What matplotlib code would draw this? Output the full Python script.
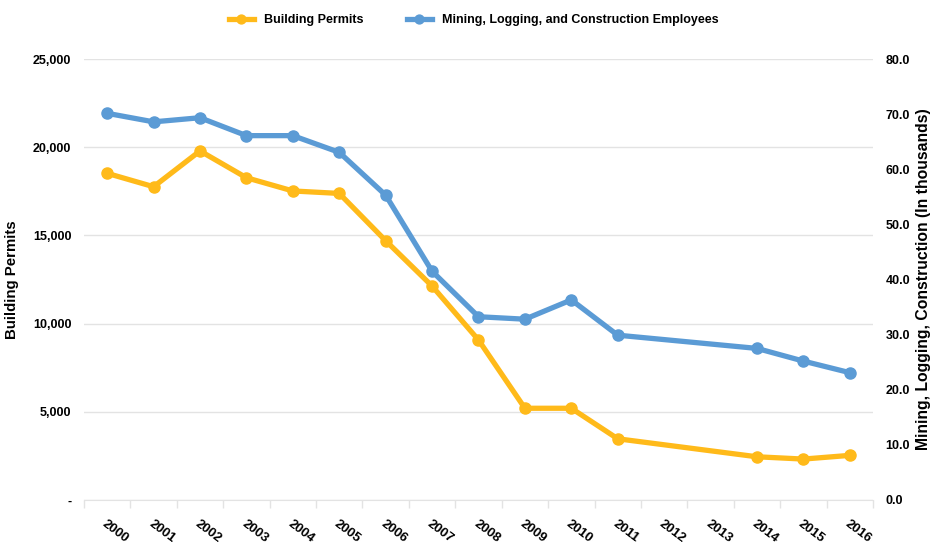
import numpy as np
import matplotlib
matplotlib.use("Agg")
import matplotlib.pyplot as plt
from matplotlib.ticker import FuncFormatter

plt.rcParams['font.family'] = ['Liberation Sans Narrow', 'Liberation Sans', 'DejaVu Sans']
plt.rcParams['font.weight'] = 'bold'

years = ['2000', '2001', '2002', '2003', '2004', '2005', '2006', '2007', '2008',
         '2009', '2010', '2011', '2012', '2013', '2014', '2015', '2016']
# None = no data for that year
permits = [18520, 17760, 19790, 18270, 17520, 17380, 14700, 12130, 9070,
           5200, 5200, 3470, None, None, 2450, 2320, 2530]
employees = [70.15, 68.6, 69.35, 66.1, 66.1, 63.07, 55.3, 41.5, 33.25,
             32.8, 36.3, 29.9, None, None, 27.5, 25.2, 23.1]

yellow = '#FFBA1A'
blue = '#5B9BD5'
grid = '#E3E3E3'

fig = plt.figure(figsize=(9.32, 5.48), dpi=100)
ax = fig.add_axes([0.0901, 0.0876, 0.8466, 0.8047])
ax2 = ax.twinx()

xp = [i for i, v in enumerate(permits) if v is not None]
yp = [v for v in permits if v is not None]
xe = [i for i, v in enumerate(employees) if v is not None]
ye = [v for v in employees if v is not None]

l1, = ax.plot(xp, yp, color=yellow, lw=3.8, marker='o', ms=8, zorder=3,
              label='Building Permits')
l2, = ax2.plot(xe, ye, color=blue, lw=3.8, marker='o', ms=8, zorder=3,
               label='Mining, Logging, and Construction Employees')

ax.set_xlim(-0.5, len(years) - 0.5)
ax.set_ylim(0, 25000)
ax2.set_ylim(0, 80)

ax.set_yticks(np.arange(0, 25001, 5000))
ax.yaxis.set_major_formatter(FuncFormatter(lambda v, p: '-' if v == 0 else f'{int(v):,}'))
ax2.set_yticks(np.arange(0, 81, 10))
ax2.yaxis.set_major_formatter(FuncFormatter(lambda v, p: f'{v:.1f}'))

ax.grid(axis='y', color=grid, lw=1)
ax.set_axisbelow(True)

# boundary ticks between categories, labels at centers
ax.set_xticks(np.arange(-0.5, len(years)), minor=False)
ax.set_xticklabels([])
ax.set_xticks(np.arange(len(years)), minor=True)
ax.set_xticklabels(years, minor=True, rotation=-37, ha='left', va='top',
                   rotation_mode='anchor', fontsize=9.5)
ax.tick_params(axis='x', which='major', length=6, color=grid, width=1)
ax.tick_params(axis='x', which='minor', length=0, pad=13)

for a in (ax, ax2):
    for s in ('top', 'left', 'right'):
        a.spines[s].set_visible(False)
    a.spines['bottom'].set_color(grid)
    a.tick_params(axis='y', length=0, labelsize=9, pad=9)
ax2.spines['bottom'].set_visible(False)

ax.set_ylabel('Building Permits', fontsize=10.8, fontweight='bold', labelpad=10)
ax2.set_ylabel('Mining, Logging, Construction (In thousands)', fontsize=11.3,
               fontweight='bold', labelpad=4)

fig.legend(handles=[l1, l2], loc='upper center', bbox_to_anchor=(0.508, 0.995),
           ncol=2, frameon=False, fontsize=9, handlelength=2.0,
           columnspacing=3.5, markerscale=0.8)

fig.savefig('out.png', dpi=100)
